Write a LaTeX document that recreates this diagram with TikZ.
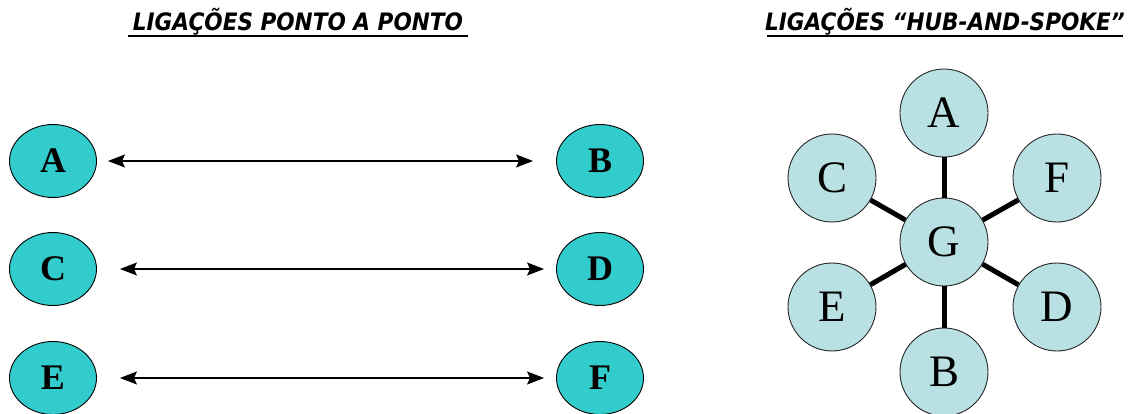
\documentclass[tikz,border=0pt]{standalone}
\usepackage{fontspec}
\setmainfont{Liberation Serif}
\newfontfamily\titlefont{DejaVu Sans}
\usetikzlibrary{shapes.geometric,arrows.meta}
\definecolor{teal1}{RGB}{51,204,204}
\definecolor{hubfill}{RGB}{185,225,228}
\tikzset{
  ptp/.style={ellipse,draw=black,line width=0.9pt,fill=teal1,minimum width=87pt,minimum height=73pt,inner sep=0pt,font=\fontsize{36}{36}\selectfont\bfseries},
  hub/.style={circle,draw=black!85,line width=0.9pt,fill=hubfill,minimum size=88pt,inner sep=0pt,font=\fontsize{45}{45}\selectfont},
  ttl/.style={inner sep=0pt,anchor=base,font=\titlefont\fontsize{24}{24}\selectfont\bfseries\itshape},
  link/.style={line width=1.5pt,{Stealth[length=17pt,width=13pt,inset=3pt]}-{Stealth[length=17pt,width=13pt,inset=3pt]}},
  spoke/.style={line width=5pt},
  uline/.style={line width=2pt}
}
\begin{document}
\begin{tikzpicture}[x=1pt,y=-1pt]
\useasboundingbox (0,0) rectangle (1130,414);
% titles
\node[ttl] (t1) at (298,31) {\scalebox{0.9}[1]{LIGAÇÕES PONTO A PONTO}};
\node[ttl] (t2) at (945,31) {\scalebox{0.9}[1]{LIGAÇÕES “HUB-AND-SPOKE”}};
\coordinate (u1a) at (128,36.5); \coordinate (u1b) at (468,36.5);
\coordinate (u2a) at (767,36.5); \coordinate (u2b) at (1123,36.5);
\draw[uline] (u1a) -- (u1b);
\draw[uline] (u2a) -- (u2b);
% point to point
\node[ptp] (pA) at (53,161) {A};
\node[ptp] (pB) at (600,161) {B};
\node[ptp] (pC) at (53,269) {C};
\node[ptp] (pD) at (600,269) {D};
\node[ptp] (pE) at (53,378) {E};
\node[ptp] (pF) at (600,378) {F};
\draw[link,shorten <=11pt,shorten >=23pt] (pA.east) -- (pB.west);
\draw[link,shorten <=23pt,shorten >=12pt] (pC.east) -- (pD.west);
\draw[link,shorten <=23pt,shorten >=12pt] (pE.east) -- (pF.west);
% hub and spoke
\node[hub] (hG) at (944,242) {G};
\node[hub] (hA) at (944,113) {A};
\node[hub] (hB) at (944,372) {B};
\node[hub] (hC) at (832,178) {C};
\node[hub] (hF) at (1057,178) {F};
\node[hub] (hE) at (832,307) {E};
\node[hub] (hD) at (1057,307) {D};
\foreach \n in {hA,hB,hC,hD,hE,hF} \draw[spoke] (hG) -- (\n);
\end{tikzpicture}
\end{document}
